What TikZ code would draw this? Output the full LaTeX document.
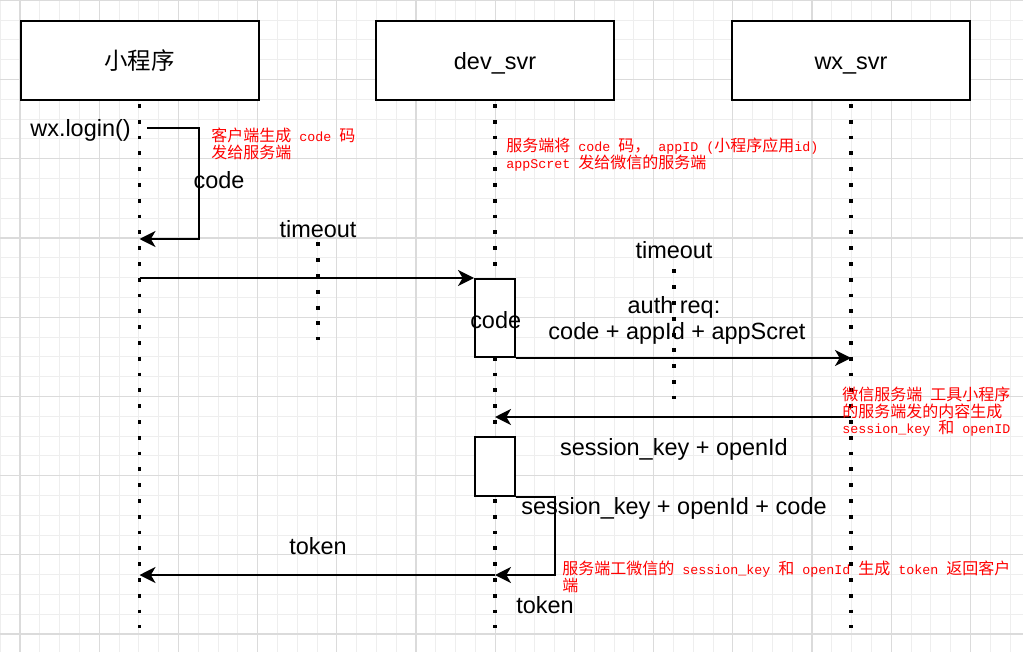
\documentclass[tikz,border=0pt]{standalone}
\usepackage{fontspec}
\setmainfont{Liberation Sans}
\newfontfamily\cjk{Noto Sans CJK SC}
\newfontfamily\mono{Liberation Mono}
\usetikzlibrary{
  arrows.meta,
  calc,
}
\newcommand\lat[1]{{\mono\fontsize{10}{12.4}\selectfont#1}}
\tikzset{
  lane/.style={draw=black,line width=1.5pt,fill=white,minimum width=178.5pt,minimum height=59.25pt,
    text height=14.2pt,text depth=0pt,inner sep=0pt,font=\fontsize{17.6}{21}\selectfont},
  actbox/.style={draw=black,line width=1.5pt,fill=white,minimum width=30pt,inner sep=0pt},
  life/.style={line width=2.9pt,dash pattern=on 2.9pt off 8.95pt},
  msg/.style={line width=1.5pt,-{Stealth[length=12pt,width=12pt,inset=3.5pt]}},
  lbl/.style={inner sep=0pt,anchor=base,font=\fontsize{17.6}{21}\selectfont},
  note/.style={inner sep=0pt,anchor=north west,align=left,text=red,font=\cjk\fontsize{12}{12.4}\selectfont},
  minorgrid/.style={draw=gray!13,line width=0.75pt},
  majorgrid/.style={draw=gray!28,line width=1pt},
}
\begin{document}
\begin{tikzpicture}[x=0.75pt,y=-0.75pt]
\fill[white] (0,0) rectangle (1023,652);
\useasboundingbox (0,0) rectangle (1023,652);
\foreach \i in {0,...,51} \draw[minorgrid] ({0.2+19.8*\i},0) -- ({0.2+19.8*\i},652);
\foreach \j in {0,...,32} \draw[minorgrid] (0,{0.4+19.8*\j}) -- (1023,{0.4+19.8*\j});
\foreach \i in {0,...,12} \draw[majorgrid] ({20+79.2*\i},0) -- ({20+79.2*\i},652);
\foreach \j in {0,...,8} \draw[majorgrid] (0,{0.4+79.2*\j}) -- (1023,{0.4+79.2*\j});

\node[lane] (mp) at (139.5,60.5) {{\cjk 小程序}};
\node[lane] (dev) at (495,60.5) {dev\_svr};
\node[lane] (wx) at (851,60.5) {wx\_svr};
\foreach \n in {mp,dev,wx} \draw[life] ([yshift=-2.25pt]\n.south) -- (\n.south |- 0,628);

\node[lbl,anchor=base east] (login) at (131,137) {wx.login()};
\coordinate (c1) at (147,128);
\draw[msg] (c1) -- ++(52,0) |- (mp.south |- 0,239);
\node[lbl] (code1) at (219,189) {code};

\node[lbl] (to1) at (318,238) {timeout};
\draw[life] ([yshift=-3pt]to1.south) -- ++(0,98);

\node[actbox,minimum height=58.5pt] (act1) at (495,318) {};
\node[lbl] (code2) at (495.7,328) {code};
\draw[msg] (mp.south |- act1.north west) -- (act1.north west);

\node[lbl] (to2) at (674,258) {timeout};
\draw[life] ([yshift=-8.25pt]to2.south) -- ++(0,130);

\node[lbl] (auth) at (674,313) {auth req:};
\node[lbl] (authb) at (677,339) {code + appId + appScret};
\draw[msg] (act1.south east) -- (wx.south |- act1.south east);

\draw[msg] (wx.south |- 0,417) -- (dev.south |- 0,417);
\node[lbl] (sess) at (674,455) {session\_key + openId};

\node[actbox,minimum height=44.25pt] (act2) at (495,466.5) {};
\draw[msg] (act2.south east) -- ++(39,0) |- (dev.south |- 0,575);
\node[lbl] (sessb) at (674,514) {session\_key + openId + code};
\node[lbl] (tok1) at (545,613) {token};

\draw[msg] (dev.south |- 0,575) -- (mp.south |- 0,575);
\node[lbl] (tok2) at (318,554) {token};

\node[note] (n1) at (211,128) {客户端生成\lat{ code }码\\发给服务端};
\node[note] (n2) at (506,138) {服务端将\lat{ code }码，\lat{ appID (}小程序应用\lat{id)}\\\lat{appScret }发给微信的服务端};
\node[note] (n3) at (842,387) {微信服务端\lat{ }工具小程序\\的服务端发的内容生成\\\lat{session\_key }和\lat{ openID}};
\node[note] (n4) at (562,561) {服务端工微信的\lat{ session\_key }和\lat{ openId }生成\lat{ token }返回客户\\端};
\end{tikzpicture}
\end{document}
